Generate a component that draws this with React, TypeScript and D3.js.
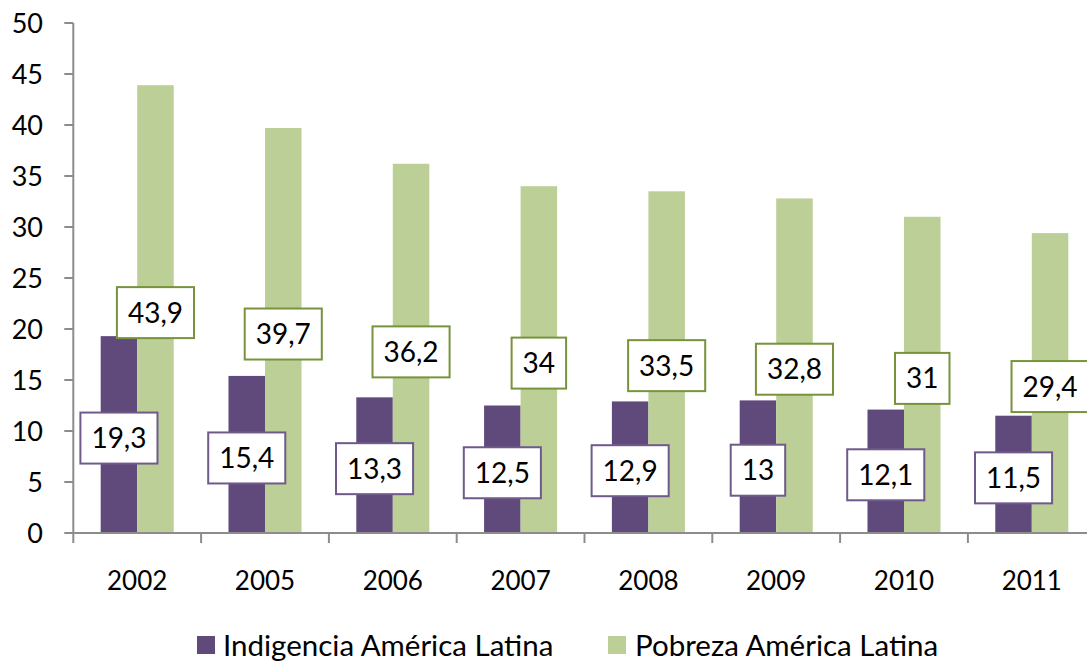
import React, { useEffect, useRef } from "react";
import * as d3 from "d3";

const categories = ["2002", "2005", "2006", "2007", "2008", "2009", "2010", "2011"];
const indigencia = [19.3, 15.4, 13.3, 12.5, 12.9, 13, 12.1, 11.5];
const pobreza = [43.9, 39.7, 36.2, 34, 33.5, 32.8, 31, 29.4];
const seriesNames = ["Indigencia América Latina", "Pobreza América Latina"];
const yTicks = [0, 5, 10, 15, 20, 25, 30, 35, 40, 45, 50];
const labelText = (v: number) => String(v).replace(".", ",");

const W = 1087;
const H = 662;
const FONT = "Lato, 'Open Sans', sans-serif";
const barColors = ["#604a7b", "#bbcf97"];
const borderColors = ["#6f5a8b", "#77933c"];
const axisColor = "#8c8c8c";

export default function App() {
  const ref = useRef<SVGSVGElement | null>(null);

  useEffect(() => {
    const svg = d3.select(ref.current);
    svg.selectAll("*").remove();

    const x0 = 73.3;
    const step = 127.8;
    const x = d3
      .scaleBand<string>()
      .domain(categories)
      .range([x0, x0 + step * categories.length])
      .padding(0);
    const xs = d3
      .scaleBand<string>()
      .domain(seriesNames)
      .range([0, x.bandwidth()])
      .paddingInner(0)
      .paddingOuter(0.75);
    const y = d3.scaleLinear().domain([0, 50]).range([533, 23]);

    // bars
    const series = [indigencia, pobreza];
    series.forEach((vals, si) => {
      svg
        .append("g")
        .selectAll("rect")
        .data(vals)
        .join("rect")
        .attr("x", (_, i) => (x(categories[i]) as number) + (xs(seriesNames[si]) as number))
        .attr("y", (d) => y(d))
        .attr("width", xs.bandwidth())
        .attr("height", (d) => y(0) - y(d))
        .attr("fill", barColors[si]);
    });

    // y axis
    const gy = svg.append("g");
    gy.append("line")
      .attr("x1", x0)
      .attr("x2", x0)
      .attr("y1", y(50))
      .attr("y2", y(0))
      .attr("stroke", axisColor)
      .attr("stroke-width", 2);
    gy.selectAll("line.tick")
      .data(yTicks)
      .join("line")
      .attr("class", "tick")
      .attr("x1", x0 - 9)
      .attr("x2", x0)
      .attr("y1", (d) => y(d))
      .attr("y2", (d) => y(d))
      .attr("stroke", axisColor)
      .attr("stroke-width", 2);
    gy.selectAll("text")
      .data(yTicks)
      .join("text")
      .attr("x", 43)
      .attr("y", (d) => y(d))
      .attr("dy", "0.36em")
      .attr("text-anchor", "end")
      .attr("font-family", FONT)
      .attr("font-size", 27)
      .attr("fill", "#000")
      .text((d) => String(d));

    // x axis
    const gx = svg.append("g");
    gx.append("line")
      .attr("x1", x0)
      .attr("x2", W)
      .attr("y1", y(0))
      .attr("y2", y(0))
      .attr("stroke", axisColor)
      .attr("stroke-width", 2);
    const tickXs = categories.map((c) => x(c) as number).concat([x0 + step * categories.length]);
    gx.selectAll("line.tick")
      .data(tickXs)
      .join("line")
      .attr("class", "tick")
      .attr("x1", (d) => d)
      .attr("x2", (d) => d)
      .attr("y1", y(0))
      .attr("y2", y(0) + 10)
      .attr("stroke", axisColor)
      .attr("stroke-width", 2);
    gx.selectAll("text")
      .data(categories)
      .join("text")
      .attr("x", (d) => (x(d) as number) + x.bandwidth() / 2)
      .attr("y", 590)
      .attr("text-anchor", "middle")
      .attr("font-family", FONT)
      .attr("font-size", 26)
      .attr("fill", "#000")
      .text((d) => d);

    // data labels
    series.forEach((vals, si) => {
      vals.forEach((v, i) => {
        const cx = (x(categories[i]) as number) + (xs(seriesNames[si]) as number) + xs.bandwidth() / 2;
        const cy = y(v / 2) + 3.5;
        const g = svg.append("g");
        const rect = g.append("rect");
        const t = g
          .append("text")
          .attr("x", cx)
          .attr("y", cy)
          .attr("dy", "0.36em")
          .attr("text-anchor", "middle")
          .attr("font-family", FONT)
          .attr("font-size", 28)
          .attr("fill", "#000")
          .text(labelText(v));
        const tw = (t.node() as SVGTextElement).getComputedTextLength();
        const bw = tw + 22;
        const bh = 51;
        rect
          .attr("x", cx - bw / 2)
          .attr("y", cy - bh / 2)
          .attr("width", bw)
          .attr("height", bh)
          .attr("fill", "#fff")
          .attr("stroke", borderColors[si])
          .attr("stroke-width", 2);
      });
    });

    // legend
    const legendItems = [
      { sx: 197, tx: 223 },
      { sx: 608, tx: 635 },
    ];
    const lg = svg.append("g");
    seriesNames.forEach((name, si) => {
      lg.append("rect")
        .attr("x", legendItems[si].sx)
        .attr("y", 636)
        .attr("width", 18)
        .attr("height", 18)
        .attr("fill", barColors[si]);
      lg.append("text")
        .attr("x", legendItems[si].tx)
        .attr("y", 656)
        .attr("font-family", FONT)
        .attr("font-size", 29.5)
        .attr("fill", "#000")
        .text(name);
    });
  }, []);

  return (
    <svg
      ref={ref}
      width={W}
      height={H}
      style={{ position: "absolute", left: 0, top: 0, background: "#fff" }}
    />
  );
}
